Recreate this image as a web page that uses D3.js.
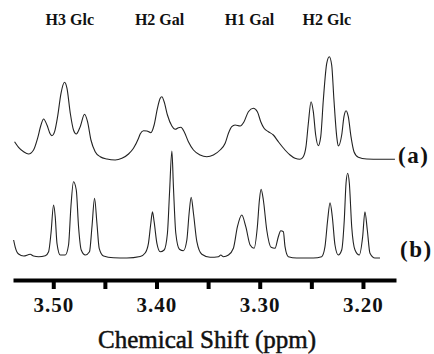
<!DOCTYPE html>
<html>
<head>
<meta charset="utf-8">
<script src="https://cdn.jsdelivr.net/npm/d3@7"></script>
<style>
  body { margin: 0; background: #fff; }
  svg { display: block; }
</style>
</head>
<body>
<svg id="chart" width="434" height="354"></svg>
<script>
// signal assignments, ppm position of each label
const assignLabels = ["H3 Glc", "H2 Gal", "H1 Gal", "H2 Glc"];
const assignPpm = [3.484, 3.397, 3.310, 3.235];

// axis ticks
const tickValues = [3.50, 3.45, 3.40, 3.35, 3.30, 3.25, 3.20];
const tickLabels = ["3.50", "3.40", "3.30", "3.20"];

// trace (a): [ppm, intensity]
const traceA = [
  [3.5375,18.3],[3.5336,12.7],[3.5287,8.3],[3.5239,6.0],[3.5191,10.0],[3.5152,21.7],
  [3.5119,35.0],[3.5094,41.0],[3.5061,35.0],[3.5029,26.0],[3.5013,24.3],[3.4987,28.3],
  [3.4958,43.3],[3.4925,66.7],[3.4891,77.7],[3.4867,71.7],[3.4835,46.7],[3.4804,30.0],
  [3.4777,26.0],[3.4739,33.3],[3.4697,45.7],[3.4668,38.3],[3.4635,20.0],[3.4594,8.3],
  [3.4545,3.3],[3.4480,1.0],[3.4400,0.0],[3.4335,1.7],[3.4271,6.0],[3.4223,11.7],
  [3.4174,21.7],[3.4158,26.0],[3.4126,29.3],[3.4093,29.0],[3.4054,27.3],[3.4023,35.0],
  [3.3991,51.7],[3.3964,61.7],[3.3948,63.3],[3.3926,58.3],[3.3894,45.0],[3.3851,34.0],
  [3.3819,30.7],[3.3787,32.3],[3.3764,32.7],[3.3732,28.3],[3.3691,18.3],[3.3642,10.0],
  [3.3577,5.0],[3.3513,3.3],[3.3449,5.0],[3.3384,10.0],[3.3335,16.7],[3.3303,26.7],
  [3.3271,33.3],[3.3239,35.0],[3.3190,34.0],[3.3152,38.3],[3.3110,48.3],[3.3062,51.7],
  [3.3023,48.3],[3.2990,38.3],[3.2958,31.7],[3.2916,28.3],[3.2868,25.0],[3.2820,18.3],
  [3.2755,10.0],[3.2706,5.0],[3.2658,1.7],[3.2610,0.7],[3.2578,3.3],[3.2552,13.3],
  [3.2529,36.7],[3.2503,58.3],[3.2481,48.3],[3.2458,25.0],[3.2433,14.3],[3.2409,23.3],
  [3.2384,60.0],[3.2351,96.7],[3.2326,103.3],[3.2303,95.0],[3.2281,60.0],[3.2254,23.3],
  [3.2239,14.0],[3.2206,25.0],[3.2184,43.3],[3.2164,49.3],[3.2142,43.3],[3.2116,23.3],
  [3.2087,8.3],[3.2045,2.7],[3.1964,1.0],[3.1835,0.7],[3.1690,0.7]
];

// trace (b): [ppm, intensity]
const traceB = [
  [3.5384,18.0],[3.5368,10.7],[3.5336,4.0],[3.5287,2.0],[3.5223,3.7],[3.5191,2.0],
  [3.5142,1.3],[3.5077,2.3],[3.5045,6.3],[3.5022,24.7],[3.4997,53.0],[3.4981,41.3],
  [3.4964,14.7],[3.4932,3.0],[3.4884,3.0],[3.4852,13.0],[3.4829,51.3],[3.4804,76.3],
  [3.4777,68.0],[3.4755,31.3],[3.4729,8.0],[3.4690,3.0],[3.4649,6.3],[3.4625,31.3],
  [3.4600,59.7],[3.4577,34.7],[3.4555,9.7],[3.4513,2.0],[3.4416,0.3],[3.4287,0.0],
  [3.4158,1.5],[3.4110,5.0],[3.4078,14.7],[3.4055,34.7],[3.4039,46.3],[3.4023,36.3],
  [3.3996,14.7],[3.3964,6.3],[3.3926,8.0],[3.3894,24.7],[3.3874,64.7],[3.3851,107.0],
  [3.3836,71.3],[3.3813,24.7],[3.3778,8.7],[3.3739,7.3],[3.3706,18.0],[3.3684,44.7],
  [3.3664,60.7],[3.3642,44.7],[3.3609,16.3],[3.3561,3.7],[3.3481,0.7],[3.3400,1.3],
  [3.3377,3.0],[3.3352,1.3],[3.3303,3.0],[3.3255,9.7],[3.3216,31.3],[3.3174,43.0],
  [3.3135,31.3],[3.3093,13.0],[3.3055,9.7],[3.3023,31.3],[3.3003,58.0],[3.2987,68.7],
  [3.2965,58.0],[3.2932,28.0],[3.2890,10.7],[3.2852,9.7],[3.2820,21.3],[3.2796,27.3],
  [3.2771,26.3],[3.2755,11.3],[3.2723,1.3],[3.2642,0.0],[3.2481,0.0],[3.2400,1.3],
  [3.2368,11.3],[3.2342,38.0],[3.2319,55.3],[3.2297,41.3],[3.2271,13.0],[3.2239,3.0],
  [3.2206,8.0],[3.2181,38.0],[3.2164,74.7],[3.2148,84.7],[3.2132,74.7],[3.2109,31.3],
  [3.2077,8.0],[3.2036,3.0],[3.2003,21.3],[3.1981,46.3],[3.1958,28.0],[3.1932,4.7],
  [3.1884,0.0],[3.1835,0.0]
];

const FONT = "'Liberation Serif'";

const svg = d3.select("#chart");

const x = d3.scaleLinear().domain([3.539, 3.168]).range([13, 396]);
const yA = d3.scaleLinear().domain([0, 100]).range([160, 60]);
const yB = d3.scaleLinear().domain([0, 100]).range([258, 158]);

function drawTrace(data, y, label, lx, ly) {
  const line = d3.line()
    .curve(d3.curveMonotoneX)
    .x(d => x(d[0]))
    .y(d => y(d[1]));
  svg.append("path")
    .datum(data)
    .attr("d", line)
    .attr("fill", "none")
    .attr("stroke", "#222")
    .attr("stroke-width", 1.1)
    .attr("stroke-linejoin", "round");
  svg.append("text")
    .attr("x", lx).attr("y", ly)
    .style("font-family", FONT)
    .style("font-size", "23px")
    .style("font-weight", "bold")
    .style("letter-spacing", "1.5px")
    .attr("fill", "#111")
    .text(label);
}

drawTrace(traceA, yA, "(a)", 398, 163);
drawTrace(traceB, yB, "(b)", 400, 257);

// assignment labels along the top
svg.selectAll("text.assign")
  .data(assignLabels)
  .enter().append("text")
  .attr("class", "assign")
  .attr("x", (d, i) => x(assignPpm[i]))
  .attr("y", 25)
  .attr("text-anchor", "middle")
  .attr("fill", "#111")
  .style("font-family", FONT)
  .style("font-size", "16px")
  .style("font-weight", "bold")
  .text(d => d);

// x axis
const xAxis = d3.axisBottom(x)
  .tickValues(tickValues)
  .tickSize(9)
  .tickSizeOuter(0)
  .tickPadding(8)
  .tickFormat(d => {
    const s = d3.format(".2f")(d);
    return tickLabels.includes(s) ? s : "";
  });

const gx = svg.append("g")
  .attr("transform", "translate(0,280)")
  .call(xAxis);

gx.select(".domain").attr("stroke", "#000").attr("stroke-width", 4);
gx.selectAll(".tick line").attr("stroke", "#000").attr("stroke-width", 4);
gx.selectAll(".tick text")
  .attr("fill", "#111")
  .style("font-family", FONT)
  .style("font-size", "21px")
  .style("font-weight", "bold")
  .style("letter-spacing", "1px");

svg.append("text")
  .attr("x", 207)
  .attr("y", 348)
  .attr("text-anchor", "middle")
  .attr("fill", "#111")
  .style("font-family", FONT)
  .style("font-size", "25px")
  .style("font-weight", "normal")
  .style("stroke", "#111")
  .style("stroke-width", "0.5px")
  .text("Chemical Shift (ppm)");
</script>
</body>
</html>
